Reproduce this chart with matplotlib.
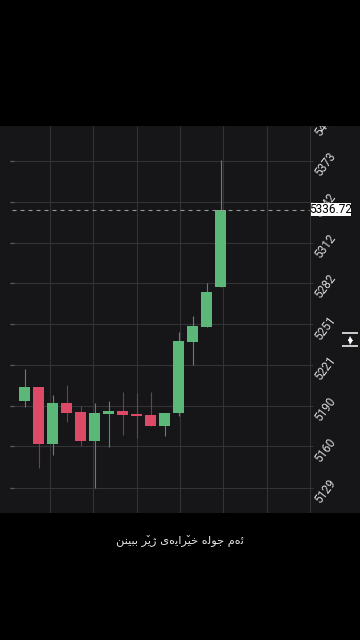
import matplotlib
matplotlib.use("Agg")
import matplotlib.pyplot as plt
from matplotlib.patches import Rectangle

# --- data ---
opens  = [5193.8, 5204.4, 5161.6, 5192.0, 5185.4, 5163.7, 5184.3, 5186.5, 5184.1, 5183.3, 5175.1, 5184.6, 5238.0, 5249.2, 5279.1]
closes = [5204.4, 5161.6, 5192.0, 5185.0, 5163.7, 5185.0, 5186.5, 5183.1, 5182.8, 5175.1, 5185.0, 5238.8, 5249.8, 5275.2, 5336.72]
highs  = [5217.4, 5204.4, 5198.2, 5205.7, 5190.0, 5192.5, 5193.8, 5200.7, 5199.5, 5200.3, 5185.0, 5245.5, 5257.2, 5281.7, 5373.7]
lows   = [5189.1, 5143.5, 5153.4, 5178.3, 5160.2, 5129.0, 5159.2, 5168.4, 5165.9, 5175.1, 5167.6, 5182.6, 5220.6, 5249.2, 5279.1]
tick_values = [5403, 5373, 5342.5, 5312, 5282, 5251, 5221, 5190, 5160, 5129]
tick_labels = ["5403", "5373", "5342", "5312", "5282", "5251", "5221", "5190", "5160", "5129"]
time_grid = [1.8, 4.9, 8.0, 11.1, 14.2, 17.3, 20.35]
last_price = 5336.72
last_label = "5336.72"
CAPTION = "ئەم جولە خێرایەی ژێر ببینن"

# --- colours ---
UP, DOWN = "#5cb878", "#dc4a68"
UP_WICK, DOWN_WICK = "#66806f", "#7d3a4c"
PANEL, GRID = "#161618", "#333335"

# --- Arabic shaping (matplotlib draws glyphs left to right, unshaped) ---
FORMS = {  # isolated, final, initial, medial
    "ئ": ("\uFE89", "\uFE8A", "\uFE8B", "\uFE8C"), "م": ("\uFEE1", "\uFEE2", "\uFEE3", "\uFEE4"),
    "ج": ("\uFE9D", "\uFE9E", "\uFE9F", "\uFEA0"), "ل": ("\uFEDD", "\uFEDE", "\uFEDF", "\uFEE0"),
    "خ": ("\uFEA5", "\uFEA6", "\uFEA7", "\uFEA8"), "ی": ("\uFBFC", "\uFBFD", "\uFBFE", "\uFBFF"),
    "ب": ("\uFE8F", "\uFE90", "\uFE91", "\uFE92"), "ن": ("\uFEE5", "\uFEE6", "\uFEE7", "\uFEE8"),
    "ێ": ("\u06CE", "\uFBFD\u030C", "\uFBFE\u030C", "\uFBFF\u030C"),
    "و": ("\uFEED", "\uFEEE"), "ر": ("\uFEAD", "\uFEAE"), "ا": ("\uFE8D", "\uFE8E"),
    "ژ": ("\uFB8A", "\uFB8B"), "ە": ("\u06D5", "\u06D5"),
}


def shape(text):
    out = []
    for i, c in enumerate(text):
        if c not in FORMS:
            out.append(c)
            continue
        prev = text[i - 1] if i else " "
        nxt = text[i + 1] if i + 1 < len(text) else " "
        joins_prev = prev in FORMS and len(FORMS[prev]) == 4
        joins_next = len(FORMS[c]) == 4 and nxt in FORMS
        idx = (3 if joins_prev else 2) if joins_next else (1 if joins_prev else 0)
        out.append(FORMS[c][idx])
    return "".join(reversed(out))


fig = plt.figure(figsize=(3.6, 6.4), dpi=100, facecolor="black")
ax = fig.add_axes([0, (640 - 513) / 640, 1, 387 / 640], facecolor=PANEL)
ax.set_xlim(-1.764, 23.95)
ax.set_ylim(5373 - (513 - 161) / 1.339, 5373 - (126 - 161) / 1.339)
ax.set_axis_off()
ax.add_patch(Rectangle((0, 0), 1, 1, transform=ax.transAxes, color=PANEL, zorder=0))

ax.hlines(tick_values[1:], -1.05, 20.6, color=GRID, lw=0.8, zorder=1)
ax.hlines(tick_values[1:], -1.05, -0.75, color="#5a5a5a", lw=0.9, zorder=1)
ax.vlines(time_grid, *ax.get_ylim(), color=GRID, lw=0.8, zorder=1)

for i, (o, c, h, l) in enumerate(zip(opens, closes, highs, lows)):
    up = c >= o
    ax.vlines(i, l, h, color=UP_WICK if up else DOWN_WICK, lw=0.8, zorder=2)
    ax.bar(i, abs(c - o), bottom=min(o, c), width=0.78, color=UP if up else DOWN, zorder=3)

ax.hlines(last_price, -0.9, 20.3, color="#9a9a9a", lw=0.8, linestyles=(0, (3.6, 3.6)), zorder=4)

for v, t in zip(tick_values, tick_labels):
    ax.text(21.45, v - 2.8, t, color="#d8d8d8", fontsize=8.5, family="Roboto", rotation=53,
            ha="center", va="center", clip_on=True, zorder=4)

# overlay in pixel coordinates for the interface furniture
ui = fig.add_axes([0, 0, 1, 1])
ui.set_xlim(0, 360)
ui.set_ylim(640, 0)
ui.set_axis_off()
ui.add_patch(Rectangle((311, 203), 40, 13, facecolor="white", edgecolor="none"))
ui.text(331, 209.7, last_label, color="black", fontsize=8.6, family="Roboto", ha="center", va="center")
ui.hlines([332.7, 346.3], 342.3, 357.7, color="white", lw=1.1)
ui.plot([350], [337.6], marker="^", ms=3.6, color="white", mew=0)
ui.plot([350], [341.8], marker="v", ms=3.6, color="white", mew=0)
ui.text(180, 541, shape(CAPTION), color="#e6e6e6", fontsize=8.2, family="DejaVu Sans", ha="center", va="center")

fig.savefig("out.png", dpi=100, facecolor="black")
